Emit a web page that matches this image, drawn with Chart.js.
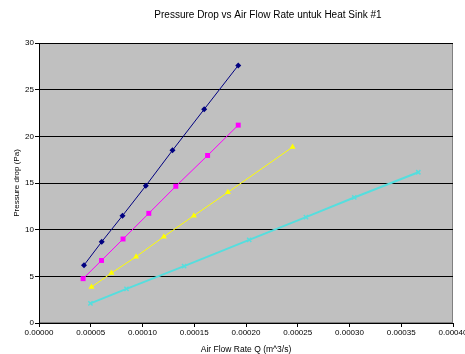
<!DOCTYPE html>
<html>
<head>
<meta charset="utf-8">
<script src="https://cdn.jsdelivr.net/npm/chart.js@4.4.0/dist/chart.umd.min.js"></script>
<style>
  html, body { margin: 0; padding: 0; background: #fff; }
  #wrap { width: 465px; height: 354px; position: relative; }
</style>
</head>
<body>
<div id="wrap"><canvas id="scatterChart"></canvas></div>
<script>
var chartTitle = "Pressure Drop vs Air Flow Rate untuk Heat Sink #1";
var xAxisTitle = "Air Flow Rate Q (m^3/s)";
var yAxisTitle = "Pressure drop (Pa)";

// flow rate (m^3/s) and pressure drop (Pa), one pair of arrays per series
var flow1 = [0.0000435, 0.0000606, 0.0000807, 0.0001032, 0.000129, 0.0001596, 0.0001925];
var drop1 = [6.2, 8.7, 11.5, 14.7, 18.5, 22.9, 27.6];

var flow2 = [0.0000426, 0.0000604, 0.0000812, 0.0001061, 0.0001322, 0.0001629, 0.0001925];
var drop2 = [4.75, 6.7, 9.0, 11.75, 14.65, 17.95, 21.2];

var flow3 = [0.0000507, 0.00007, 0.0000938, 0.0001206, 0.0001496, 0.0001825, 0.000245];
var drop3 = [3.85, 5.35, 7.1, 9.25, 11.5, 14.0, 18.85];

var flow4 = [0.0000497, 0.0000845, 0.0001402, 0.0002031, 0.0002579, 0.0003046, 0.0003665];
var drop4 = [2.1, 3.65, 6.1, 8.9, 11.35, 13.45, 16.15];

function toPoints(xs, ys) {
  return xs.map(function (x, i) { return { x: x, y: ys[i] }; });
}

var plotBg = {
  id: 'plotBg',
  beforeDraw: function (chart) {
    var a = chart.chartArea, c = chart.ctx;
    c.save();
    c.fillStyle = '#c0c0c0';
    c.fillRect(a.left, a.top, a.right - a.left, a.bottom - a.top);
    c.strokeStyle = '#808080';
    c.lineWidth = 1;
    c.strokeRect(a.left + 0.5, a.top + 0.5, a.right - a.left - 1, a.bottom - a.top - 1);
    c.restore();
  },
  afterDraw: function (chart) {
    var c = chart.ctx;
    c.save();
    c.fillStyle = '#000';
    c.font = '10px "Liberation Sans", Arial, sans-serif';
    c.textAlign = 'center';
    c.textBaseline = 'middle';
    c.fillText(chartTitle, 268, 15);
    c.restore();
  }
};

var tickFont = { family: '"Liberation Sans", Arial, sans-serif', size: 8 };

var ctx = document.getElementById('scatterChart');
var myChart = new Chart(ctx, {
  type: 'scatter',
  data: {
    datasets: [{
      data: toPoints(flow1, drop1),
      showLine: true,
      borderColor: '#000080',
      backgroundColor: '#000080',
      borderWidth: 1,
      pointStyle: 'rectRot',
      pointRadius: 3,
      pointBorderWidth: 0
    }, {
      data: toPoints(flow2, drop2),
      showLine: true,
      borderColor: '#ff00ff',
      backgroundColor: '#ff00ff',
      borderWidth: 1,
      pointStyle: 'rect',
      pointRadius: 3.5,
      pointBorderWidth: 0
    }, {
      data: toPoints(flow3, drop3),
      showLine: true,
      borderColor: '#ffff00',
      backgroundColor: '#ffff00',
      borderWidth: 1,
      pointStyle: 'triangle',
      pointRadius: 3.5,
      pointBorderWidth: 0
    }, {
      data: toPoints(flow4, drop4),
      showLine: true,
      borderColor: '#55dede',
      backgroundColor: '#55dede',
      borderWidth: 2,
      pointStyle: 'crossRot',
      pointRadius: 3,
      pointBorderWidth: 1.5
    }]
  },
  plugins: [plotBg],
  options: {
    responsive: true,
    maintainAspectRatio: false,
    animation: false,
    layout: { padding: { top: 43, right: 12, left: 0, bottom: 0 } },
    plugins: {
      legend: { display: false },
      tooltip: { enabled: false }
    },
    scales: {
      x: {
        type: 'linear',
        min: 0,
        max: 0.0004,
        ticks: {
          stepSize: 0.00005,
          color: '#000',
          font: tickFont,
          padding: 1,
          maxRotation: 0,
          autoSkip: false,
          callback: function (v) { return Number(v).toFixed(5); }
        },
        grid: { display: true, drawOnChartArea: false, color: '#000', tickLength: 4 },
        border: { color: '#000' },
        title: {
          display: true,
          text: xAxisTitle,
          color: '#000',
          font: { family: '"Liberation Sans", Arial, sans-serif', size: 8.5, lineHeight: 1 },
          padding: { top: 0, bottom: 0 }
        },
        afterFit: function (s) { s.height = 31; s.paddingLeft = 0; s.paddingRight = 0; }
      },
      y: {
        min: 0,
        max: 30,
        ticks: {
          stepSize: 5,
          color: '#000',
          font: tickFont,
          padding: 1
        },
        grid: { color: '#000', tickLength: 4 },
        border: { color: '#000' },
        title: {
          display: true,
          text: yAxisTitle,
          color: '#000',
          font: { family: '"Liberation Sans", Arial, sans-serif', size: 8, lineHeight: 1 },
          padding: { top: 13, bottom: 0 }
        },
        afterFit: function (s) { s.width = 39; s.paddingTop = 0; s.paddingBottom = 0; }
      }
    }
  }
});
</script>
</body>
</html>
